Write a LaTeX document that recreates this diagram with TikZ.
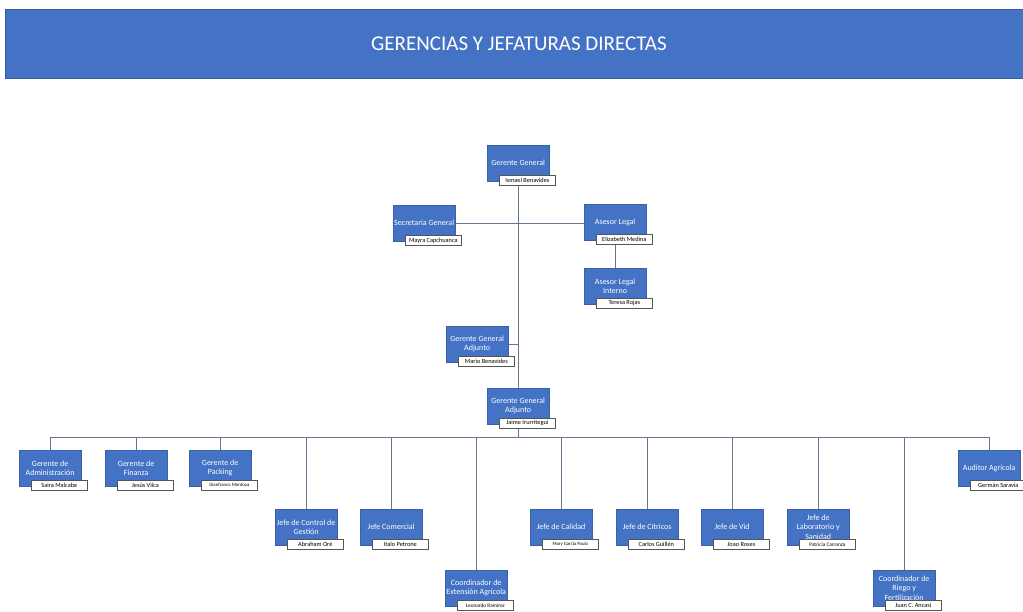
\documentclass[tikz,border=0pt]{standalone}
\usepackage{fontspec}
\setmainfont{Carlito}
\usetikzlibrary{calc,backgrounds}
\definecolor{offblue}{HTML}{4472C4}
\definecolor{bannerblue}{HTML}{4472C4}
\definecolor{linegray}{HTML}{66768E}
\definecolor{nameborder}{HTML}{555555}
\tikzset{
  unit/.style={fill=offblue, draw=offblue!85!black, line width=0.3pt, text=white,
    minimum width=62pt, minimum height=36pt, inner sep=0.5pt,
    align=center, font=\fontsize{8}{9.2}\selectfont, anchor=north west},
  person/.style={fill=white, draw=nameborder, line width=0.7pt, text=black,
    minimum width=56pt, minimum height=10pt, inner sep=0.5pt,
    font=\fontsize{6.3}{7}\selectfont, anchor=north west},
  link/.style={draw=linegray, line width=1pt},
}
\newcommand\OrgUnit[5]{%
  \node[unit] (#1) at (#2,#3) {#4};
  \node[person] (#1p) at ($(#2,#3)+(12,30)$) {#5};
}
\begin{document}
\begin{tikzpicture}[x=1pt,y=-1pt]
\useasboundingbox (0,0) rectangle (1023,612);
\node[fill=bannerblue, draw=bannerblue!80!black, line width=0.6pt, minimum width=1018pt, minimum height=69pt, anchor=north west, inner sep=0pt] (banner) at (5,9) {};
\node[text=white, font=\fontsize{21}{24}\selectfont] (title) at (519,44) {GERENCIAS Y JEFATURAS DIRECTAS};

\OrgUnit{gg}{487}{145}{Gerente General}{Ismael Benavides}
\OrgUnit{secr}{393}{205}{Secretaria General}{Mayra Capchuanca}
\OrgUnit{asesor}{584}{204}{Asesor Legal}{Elizabeth Medina}
\OrgUnit{interno}{584}{268}{Asesor Legal\\Interno}{Teresa Rojas}
\OrgUnit{gga1}{446}{326}{Gerente General\\Adjunto}{Mario Benavides}
\OrgUnit{gga2}{487}{388}{Gerente General\\Adjunto}{Jaime Irurritegui}
\OrgUnit{adm}{19}{450}{Gerente de\\Administración}{Saira Malcabe}
\OrgUnit{fin}{105}{450}{Gerente de\\Finanza}{Jesús Vilca}
\OrgUnit{pack}{189}{450}{Gerente de\\Packing}{\fontsize{4.8}{5.5}\selectfont Gianfranco Montoya}
\OrgUnit{ctrl}{275}{509}{Jefe de Control de\\Gestión}{Abraham Oré}
\OrgUnit{com}{360}{509}{Jefe Comercial}{Italo Petrone}
\OrgUnit{ext}{445}{570}{Coordinador de\\Extensión Agrícola}{\fontsize{5.3}{6}\selectfont Leonardo Ramírez}
\OrgUnit{cal}{530}{509}{Jefe de Calidad}{\fontsize{4.8}{5.5}\selectfont Mary García Paulo}
\OrgUnit{cit}{616}{509}{Jefe de Cítricos}{Carlos Guillén}
\OrgUnit{vid}{701}{509}{Jefe de Vid}{Joao Roses}
\OrgUnit{lab}{787}{509}{Jefe de\\Laboratorio y\\Sanidad}{\fontsize{5.3}{6}\selectfont Patricia Carranza}
\OrgUnit{riego}{873}{570}{Coordinador de\\Riego y\\Fertilización}{Juan C. Ancasi}
\OrgUnit{aud}{958}{450}{Auditor Agrícola}{Germán Saravia}

\coordinate (busL) at (49.5,437);
\coordinate (busR) at (988.5,437);

\begin{scope}[on background layer]
  \fill[white] (0,0) rectangle (1023,612);
  \draw[link] (gg.south) -- (gga2.north);
  \draw[link] (gga2.south) -- (gga2.south |- busL);
  \draw[link] (secr.east) -- (secr.east -| asesor.west);
  \draw[link] (asesor.south) -- (interno.north);
  \draw[link] (gga1.east) -- (gga1.east -| gg.south);
  \draw[link] (busL) -- (busR);
  \foreach \u in {adm,fin,pack,ctrl,com,ext,cal,cit,vid,lab,riego,aud}
    \draw[link] (\u.north) -- (\u.north |- busL);
\end{scope}
\end{tikzpicture}
\end{document}
